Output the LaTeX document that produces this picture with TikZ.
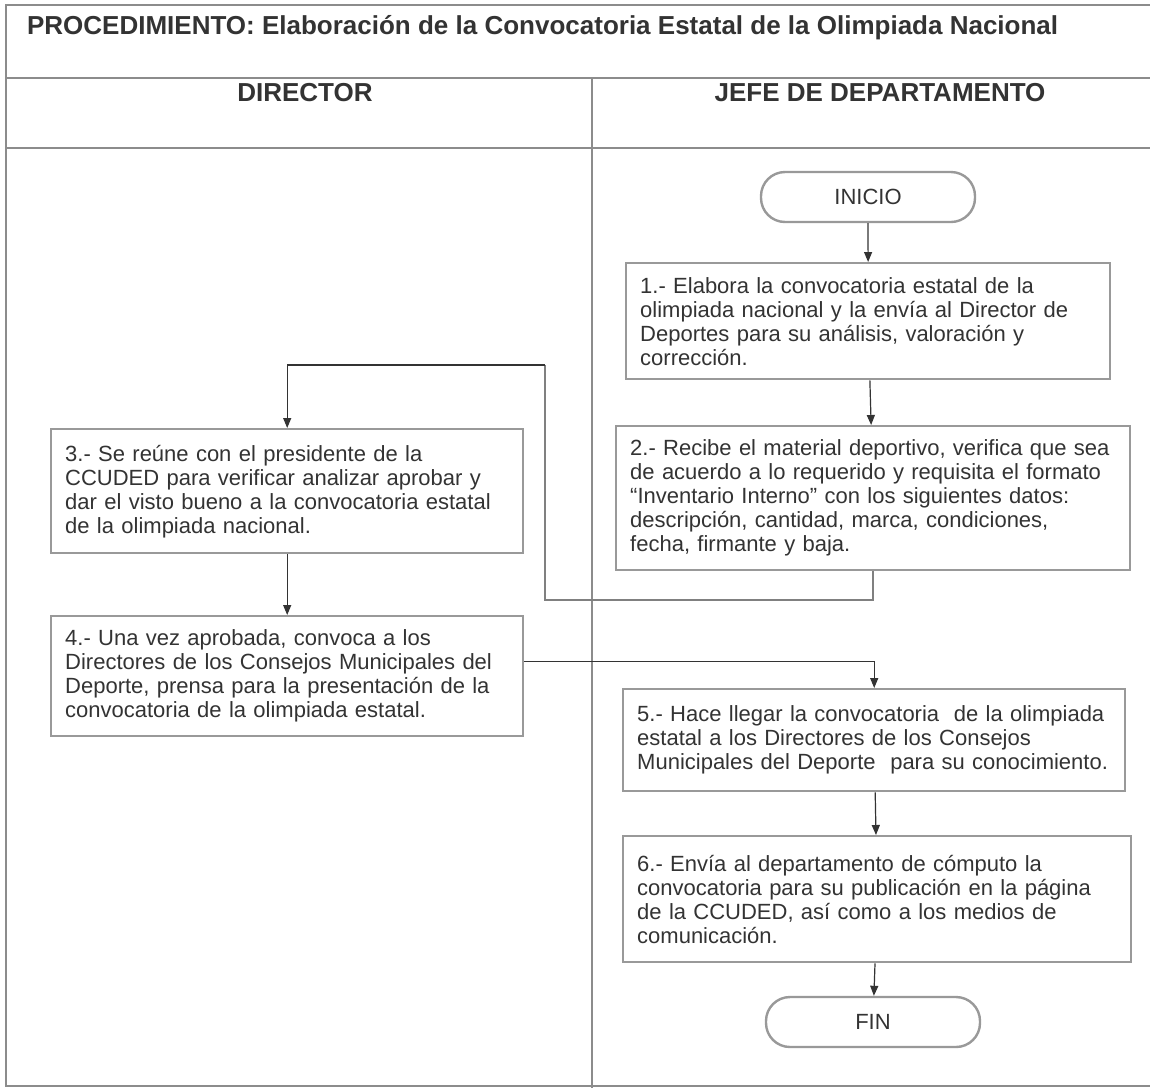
\documentclass[tikz,border=0pt]{standalone}
\usepackage{fontspec}
\setmainfont{Liberation Sans}
\usetikzlibrary{arrows.meta, positioning, calc}
\tikzset{
  frame/.style={draw=black!45, line width=1pt},
  lane/.style={font=\bfseries\fontsize{13}{15}\selectfont, text=black!80},
  taskbox/.style={rectangle, draw=black!40, line width=1.2pt, align=left,
    inner xsep=7pt, inner ysep=6pt, font=\fontsize{11}{12}\selectfont, text=black!80},
  terminal/.style={rectangle, rounded corners=12pt, draw=black!40, line width=1.2pt,
    minimum width=107pt, minimum height=25pt, font=\fontsize{11}{13}\selectfont, text=black!80},
  arr/.style={-{Triangle[length=5pt,width=4pt]}, draw=black!80, line width=0.6pt},
  lnk/.style={draw=black!50, line width=0.8pt},
}
\begin{document}
\begin{tikzpicture}[x=0.5pt, y=-0.5pt]
  \useasboundingbox (0,0) rectangle (1150,1088);
  \fill[white] (0,0) rectangle (1150,1088);

  % marco y carriles
  \draw[frame] (1150,5) -- (6,5) -- (6,1086) -- (1150,1086);
  \draw[frame] (6,78) -- (1150,78);
  \draw[frame] (6,148) -- (1150,148);
  \draw[frame] (592,78) -- (592,1088);

  \node[anchor=west, font=\bfseries\fontsize{13}{15}\selectfont, text=black!80] (title) at (20,28)
    {PROCEDIMIENTO: Elaboración de la Convocatoria Estatal de la Olimpiada Nacional};
  \node[lane] (dir) at (305,93) {DIRECTOR};
  \node[lane] (jefe) at (880,93) {JEFE DE DEPARTAMENTO};

  % actividades
  \node[terminal] (inicio) at (868,197) {INICIO};
  \node[taskbox, anchor=north west, text width=228pt, minimum height=58pt] (t1) at (625,262)
    {1.- Elabora la convocatoria estatal de la\\
     olimpiada nacional y la envía al Director de\\
     Deportes para su análisis, valoración y\\
     corrección.};
  \node[taskbox, anchor=north west, text width=243pt, minimum height=72pt] (t2) at (615,425)
    {2.- Recibe el material deportivo, verifica que sea\\
     de acuerdo a lo requerido y requisita el formato\\
     “Inventario Interno” con los siguientes datos:\\
     descripción, cantidad, marca, condiciones,\\
     fecha, firmante y baja.};
  \node[taskbox, anchor=north west, text width=222pt, minimum height=62pt] (t3) at (50,428)
    {3.- Se reúne con el presidente de la\\
     CCUDED para verificar analizar aprobar y\\
     dar el visto bueno a la convocatoria estatal\\
     de la olimpiada nacional.};
  \node[taskbox, anchor=north west, text width=222pt, minimum height=60pt] (t4) at (50,615)
    {4.- Una vez aprobada, convoca a los\\
     Directores de los Consejos Municipales del\\
     Deporte, prensa para la presentación de la\\
     convocatoria de la olimpiada estatal.};
  \node[taskbox, anchor=north west, text width=237pt, minimum height=51pt] (t5) at (622,688)
    {5.- Hace llegar la convocatoria \ de la olimpiada\\
     estatal a los Directores de los Consejos\\
     Municipales del Deporte \ para su conocimiento.};
  \node[taskbox, anchor=north west, text width=240pt, minimum height=63pt] (t6) at (622,835)
    {6.- Envía al departamento de cómputo la\\
     convocatoria para su publicación en la página\\
     de la CCUDED, así como a los medios de\\
     comunicación.};
  \node[terminal] (fin) at (873,1022) {FIN};

  \coordinate (retA) at (545,600);
  \coordinate (retB) at (545,365);

  % flujo
  \draw[arr] (inicio) -- (t1);
  \draw[arr] (t1) -- (t2);
  \draw[lnk] (t2.south) |- (retA) -- (retB);
  \draw[arr] (retB) -| (t3.north);
  \draw[arr] (t3) -- (t4);
  \draw[arr] ($(t4.east)+(0,-15)$) -| (t5.north);
  \draw[arr] (t5) -- (t6);
  \draw[arr] (t6) -- (fin);
\end{tikzpicture}
\end{document}
